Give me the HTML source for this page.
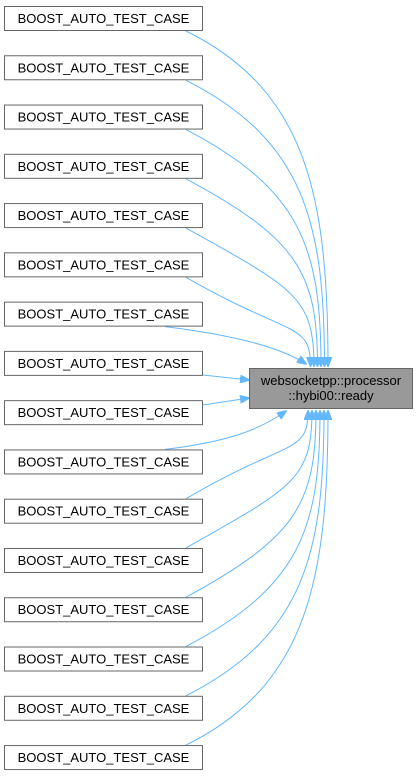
<!DOCTYPE html>
<html><head><meta charset="utf-8"><style>
body{margin:0;background:#fff;width:418px;height:776px;overflow:hidden}
svg{position:absolute;left:0;top:0}
text{font-family:"Liberation Sans",Arial,sans-serif;font-size:13px;fill:#000}
</style></head><body>
<svg id="s" width="418" height="776" xmlns="http://www.w3.org/2000/svg">
<defs><marker id="a" markerWidth="10" markerHeight="8" refX="9" refY="4" orient="auto" markerUnits="userSpaceOnUse"><path d="M0,0L10,4L0,8Z" fill="#63b8ff" stroke="#63b8ff"/></marker></defs>
<g id="e" fill="none" stroke="#63b8ff" stroke-width="1"></g>
<g id="n"></g>
<rect x="249.5" y="368.5" width="163" height="40" fill="#999" stroke="#666"/>
<text x="331" y="385" text-anchor="middle">websocketpp::processor</text>
<text x="331" y="400" text-anchor="middle">::hybi00::ready</text>
</svg>
<script>
var ns="http://www.w3.org/2000/svg",e=document.getElementById('e'),n=document.getElementById('n');
function p(d){var q=document.createElementNS(ns,'path');q.setAttribute('d',d);q.setAttribute('marker-end','url(#a)');e.appendChild(q);}
for(var i=0;i<16;i++){
 var y=6+i*49.27;
 var r=document.createElementNS(ns,'rect');r.setAttribute('x',4.5);r.setAttribute('y',y+0.5);r.setAttribute('width',198);r.setAttribute('height',24);r.setAttribute('fill','#fff');r.setAttribute('stroke','#666');n.appendChild(r);
 var t=document.createElementNS(ns,'text');t.setAttribute('x',103.5);t.setAttribute('y',y+17);t.setAttribute('text-anchor','middle');t.textContent='BOOST_AUTO_TEST_CASE';n.appendChild(t);
 var b=y+25;
 if(i<6){var tx=328-i*3.5;p('M186,'+b+' C'+(tx-20)+','+(b+60)+' '+tx+','+(b+(366-b)*0.5)+' '+tx+',366');}
 else if(i==6)p('M165,'+b+' C230,'+(b+8)+' 280,'+(b+20)+' 306,364');
 else if(i==7)p('M203,375 L249,380');
 else if(i==8)p('M203,405 L249,398');
 else if(i==9)p('M165,'+y+' C230,'+(y-8)+' 260,'+(y-20)+' 286,411');
 else {var tx2=308+(i-10)*4;p('M186,'+y+' C'+(tx2-20)+','+(y-60)+' '+tx2+','+(y-(y-411)*0.5)+' '+tx2+',411');}
}
</script>
</body></html>
